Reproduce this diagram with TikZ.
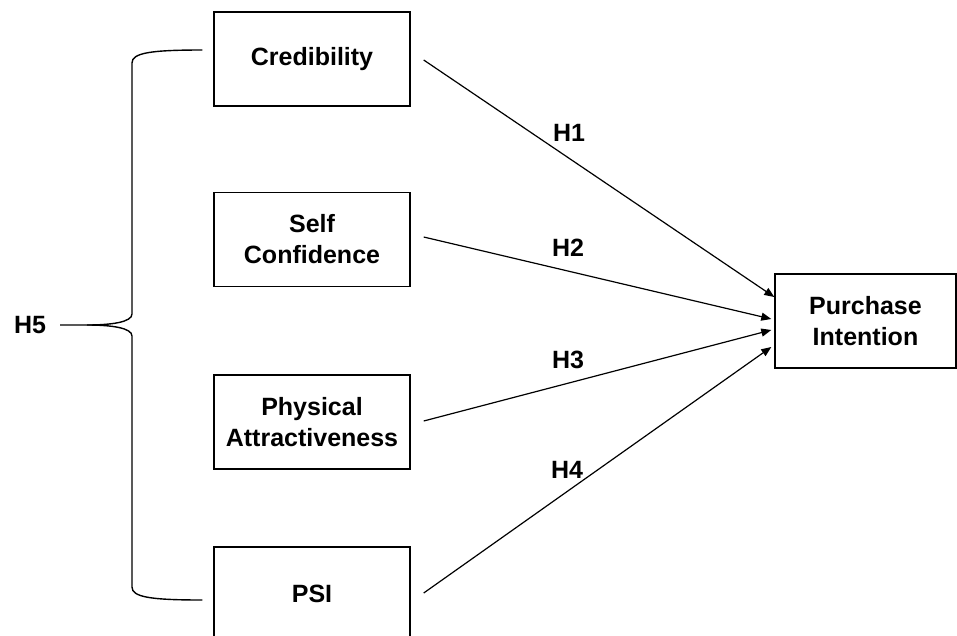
\documentclass[tikz,border=0pt]{standalone}
\usepackage{fontspec}
\setmainfont{Liberation Sans}
\usetikzlibrary{arrows.meta,calc}
\begin{document}
\begin{tikzpicture}[x=1pt,y=-1pt,
  box/.style={draw=black,line width=1.4pt,minimum width=196pt,minimum height=94pt,inner sep=0pt,align=center,font=\fontsize{25}{31}\selectfont\bfseries},
  lbl/.style={font=\fontsize{25}{30}\selectfont\bfseries,inner sep=0pt},
  conn/.style={line width=1.2pt,-{Triangle[length=10pt,width=8pt]}},
  bracel/.style={line width=1.4pt}]
\path[use as bounding box, clip] (0,0) rectangle (957,635);
\node[box] (cred) at (312,59) {Credibility};
\node[box] (sc) at (312,239.5) {Self\\Confidence};
\node[box] (pa) at (312,422) {Physical\\Attractiveness};
\node[box] (psi) at (312,594) {PSI};
\node[box,minimum width=181pt] (pi) at (865.5,321) {Purchase\\Intention};
\node[lbl] (h5) at (30,325) {H5};
\node[lbl] (h1) at (569,133) {H1};
\node[lbl] (h2) at (568,248) {H2};
\node[lbl] (h3) at (568,360) {H3};
\node[lbl] (h4) at (567,470) {H4};
\coordinate (s1) at ($(cred.east)+(13,1)$);
\coordinate (s2) at ($(sc.east)+(13,-2.5)$);
\coordinate (s3) at ($(pa.east)+(13,-1)$);
\coordinate (s4) at ($(psi.east)+(13,-1)$);
\coordinate (e1) at ($(pi.west)+(0,-24)$);
\coordinate (e2) at ($(pi.west)+(-3,-2)$);
\coordinate (e3) at ($(pi.west)+(-3,9)$);
\coordinate (e4) at ($(pi.west)+(-3,26)$);
\draw[conn] (s1) -- (e1);
\draw[conn] (s2) -- (e2);
\draw[conn] (s3) -- (e3);
\draw[conn] (s4) -- (e4);
\coordinate (bt) at ($(cred.west)+(-11,-9)$);
\coordinate (bb) at ($(psi.west)+(-11,6)$);
\coordinate (bm) at ($(h5.east)+(14,0)$);
\coordinate (tip) at (87,325);
\draw[bracel] (bt) .. controls (150,50) and (132,53) .. (132,63) -- (132,314) .. controls (132,322) and (112,325) .. (tip) -- (bm);
\draw[bracel] (tip) .. controls (112,325) and (132,328) .. (132,336) -- (132,587) .. controls (132,597) and (150,600) .. (bb);
\end{tikzpicture}
\end{document}
